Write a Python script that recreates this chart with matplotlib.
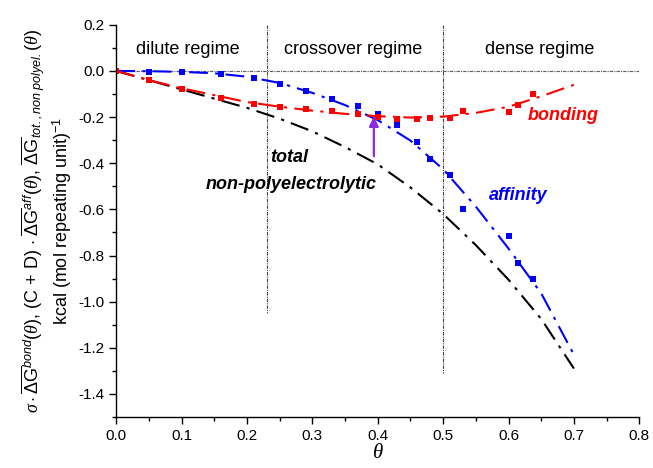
import matplotlib
matplotlib.use("Agg")
import matplotlib.pyplot as plt
from matplotlib.ticker import MultipleLocator, FormatStrFormatter

plt.rcParams['font.family'] = ['Liberation Sans', 'DejaVu Sans']
plt.rcParams['mathtext.fontset'] = 'custom'
plt.rcParams['mathtext.rm'] = 'Liberation Sans'
plt.rcParams['mathtext.it'] = 'Liberation Serif:italic'
plt.rcParams['mathtext.sf'] = 'Liberation Sans:italic'
plt.rcParams['axes.unicode_minus'] = False

# symbols (simulation)
theta_bond = [0.0, 0.05, 0.10, 0.16, 0.21, 0.25, 0.29, 0.33, 0.37, 0.40, 0.43, 0.46, 0.48, 0.51, 0.53, 0.60, 0.615, 0.637]
bond_pts = [0.0, -0.040, -0.080, -0.119, -0.145, -0.155, -0.167, -0.174, -0.188, -0.198, -0.207, -0.207, -0.203, -0.203, -0.174, -0.177, -0.146, -0.098]

theta_aff = [0.05, 0.10, 0.16, 0.21, 0.25, 0.29, 0.33, 0.37, 0.40, 0.43, 0.46, 0.48, 0.51, 0.53, 0.60, 0.615, 0.637]
aff_pts = [-0.003, -0.003, -0.014, -0.029, -0.055, -0.086, -0.123, -0.153, -0.188, -0.236, -0.307, -0.381, -0.451, -0.599, -0.715, -0.834, -0.903]

# model curves
theta_fit = [0.0, 0.05, 0.10, 0.15, 0.20, 0.25, 0.30, 0.35, 0.40, 0.45, 0.50, 0.55, 0.60, 0.65, 0.70]
bond_fit = [0.0, -0.040, -0.075, -0.105, -0.135, -0.155, -0.172, -0.186, -0.196, -0.202, -0.198, -0.182, -0.155, -0.110, -0.060]
aff_fit = [0.0, -0.001, -0.004, -0.010, -0.025, -0.052, -0.095, -0.148, -0.213, -0.302, -0.426, -0.588, -0.770, -0.964, -1.230]
tot_fit = [0.0, -0.040, -0.080, -0.120, -0.160, -0.207, -0.262, -0.330, -0.405, -0.505, -0.620, -0.755, -0.905, -1.075, -1.290]

regime_bounds = [0.23, 0.5]
regime_ends = [-1.05, -1.31]

fig = plt.figure(figsize=(6.53, 4.68), dpi=100)
ax = fig.add_axes([0.178, 0.109, 0.801, 0.838])

dashdot = (0, (9, 3.5, 1.5, 3.5))

ax.axhline(0, color='0.35', lw=0.8, ls=(0, (3, 1, 1, 1)), zorder=1)
for xb, ye in zip(regime_bounds, regime_ends):
    ax.plot([xb, xb], [0.2, ye], color='0.25', lw=0.8, ls=(0, (3, 1, 1, 1)), zorder=1)

ax.plot(theta_fit, tot_fit, color='black', lw=1.5, ls=dashdot)
ax.plot(theta_fit, aff_fit, color='#0000ff', lw=1.5, ls=dashdot)
ax.plot(theta_fit, bond_fit, color='#ff0000', lw=1.5, ls=dashdot)
ax.plot(theta_aff, aff_pts, 's', color='#0000ff', ms=4.3, mew=0)
ax.plot(theta_bond, bond_pts, 's', color='#ff0000', ms=4.3, mew=0)

# crossing point of bonding and affinity
ax.annotate('', xy=(0.394, -0.198), xytext=(0.394, -0.37),
            arrowprops=dict(arrowstyle='-|>', color='#8a2be2', lw=1.6,
                            mutation_scale=14, shrinkA=0, shrinkB=0))

ax.text(0.110, 0.091, 'dilute regime', fontsize=13, ha='center', va='center')
ax.text(0.362, 0.091, 'crossover regime', fontsize=13, ha='center', va='center')
ax.text(0.647, 0.091, 'dense regime', fontsize=13, ha='center', va='center')

ax.text(0.684, -0.193, 'bonding', color='#ff0000', fontsize=13, fontweight='bold',
        style='italic', ha='center', va='center')
ax.text(0.615, -0.541, 'affinity', color='#0000ff', fontsize=13, fontweight='bold',
        style='italic', ha='center', va='center')
ax.text(0.2355, -0.376, 'total', fontsize=13, fontweight='bold', style='italic',
        ha='left', va='center')
ax.text(0.268, -0.494, 'non-polyelectrolytic', fontsize=13, fontweight='bold',
        style='italic', ha='center', va='center')

ax.set_xlim(0, 0.8)
ax.set_ylim(-1.5, 0.2)
ax.xaxis.set_major_locator(MultipleLocator(0.1))
ax.xaxis.set_minor_locator(MultipleLocator(0.05))
ax.yaxis.set_major_locator(MultipleLocator(0.2))
ax.yaxis.set_minor_locator(MultipleLocator(0.1))
ax.xaxis.set_major_formatter(FormatStrFormatter('%.1f'))
ax.yaxis.set_major_formatter(FormatStrFormatter('%.1f'))
ax.tick_params(which='major', direction='out', length=5, width=1, labelsize=11)
ax.tick_params(which='minor', direction='out', length=3, width=1)
for s in ['top', 'right']:
    ax.spines[s].set_visible(False)
for s in ['left', 'bottom']:
    ax.spines[s].set_linewidth(1.0)

ax.set_xlabel(r'$\theta$', fontsize=15, labelpad=0)
ylab = (r'$\sigma\cdot\overline{\Delta \mathrm{G}}^{\mathsf{bond}}(\theta)$, (C + D) '
        r'$\cdot\ \overline{\Delta \mathrm{G}}^{\mathsf{aff}}(\theta)$, '
        r'$\overline{\Delta \mathrm{G}}_{\mathsf{tot.,non\ polyel.}}(\theta)$'
        '\n' r'kcal (mol repeating unit)$^{-1}$')
ax.set_ylabel(ylab, fontsize=13, labelpad=3, linespacing=1.2)

fig.savefig('out.png', dpi=100)
